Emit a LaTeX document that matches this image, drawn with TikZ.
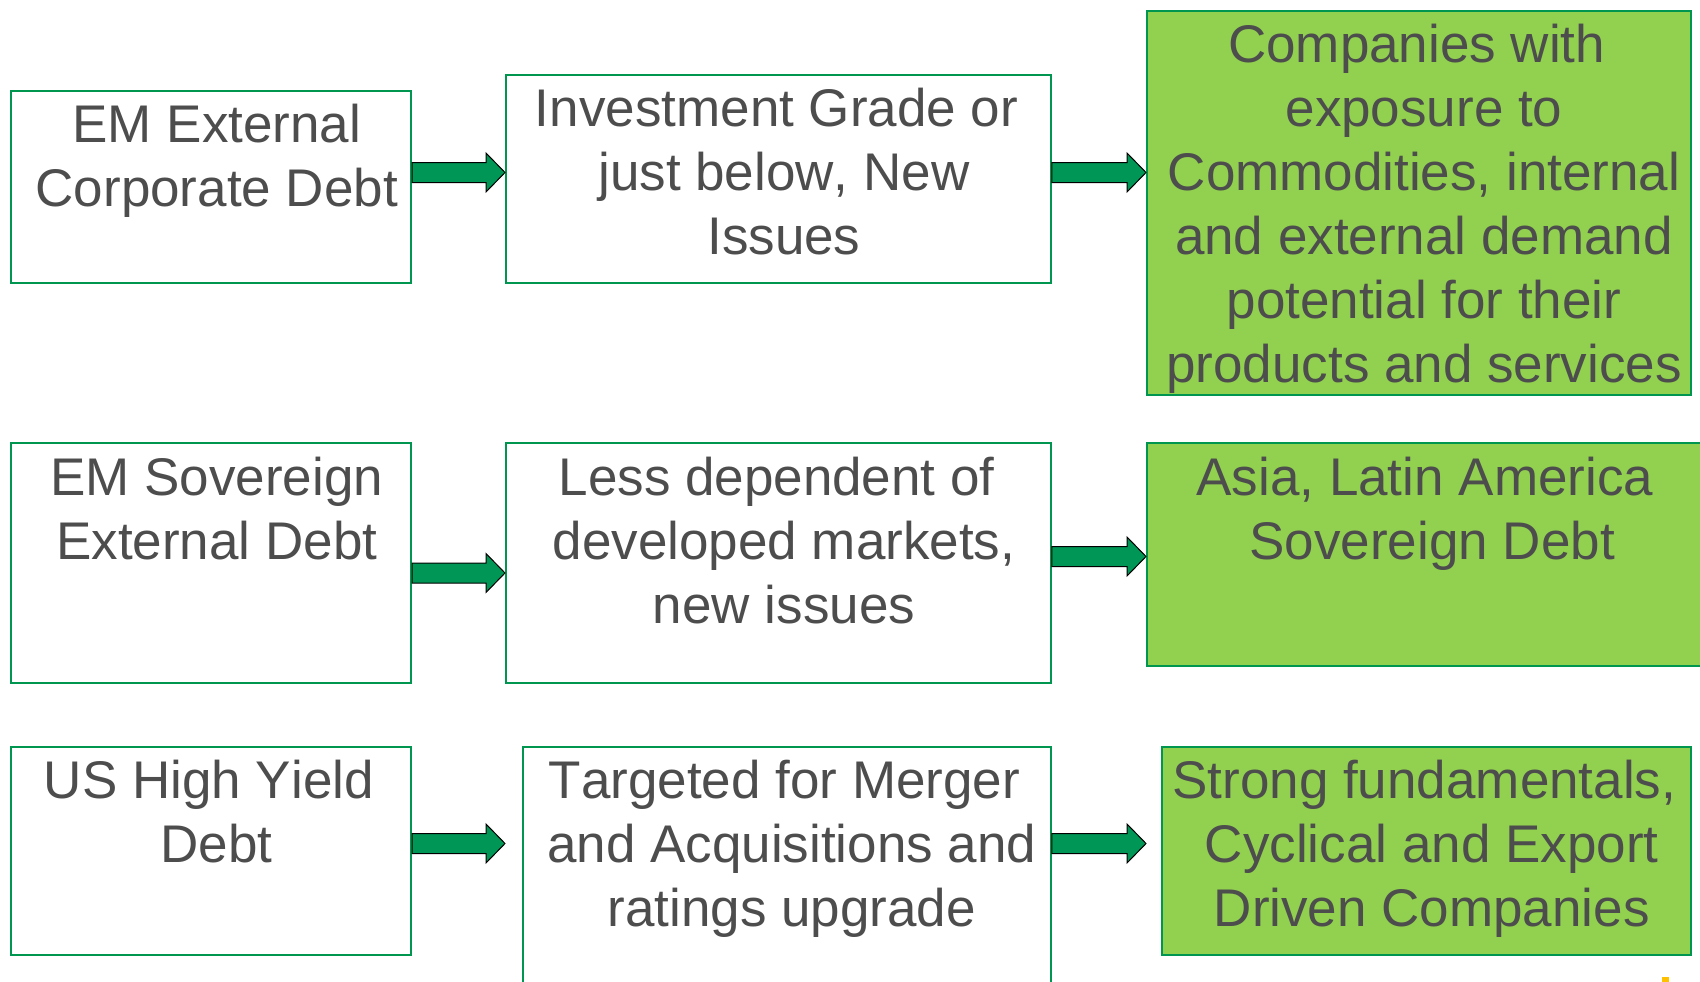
\documentclass[tikz,border=0pt]{standalone}
\usepackage{fontspec}
\setmainfont[Kerning=Off]{Liberation Sans}
\usetikzlibrary{calc}
\definecolor{boxline}{RGB}{0,150,80}
\definecolor{arrfill}{RGB}{0,150,85}
\definecolor{lightgreen}{RGB}{146,208,80}
\definecolor{txt}{RGB}{77,77,77}
\definecolor{ymark}{RGB}{255,192,0}
\tikzset{
  box/.style={draw=boxline, line width=2.4pt, fill=white, rectangle, inner sep=0pt, anchor=north west},
  gbox/.style={box, fill=lightgreen},
  label/.style={align=center, inner sep=0pt, text=txt, font=\fontsize{53}{64}\selectfont},
  blockarrow/.style={draw=black, line width=1pt, fill=arrfill, line join=miter}
}
\newcommand{\ts}{\kern0.278em}
\newcommand{\blockarr}[2]{%
  \draw[blockarrow] ($(#1)+(0,-10)$) -- ($(#2)+(-19,-10)$) -- ($(#2)+(-19,-19.5)$) -- (#2)
    -- ($(#2)+(-19,19.5)$) -- ($(#2)+(-19,10)$) -- ($(#1)+(0,10)$) -- cycle;}
\begin{document}
\begin{tikzpicture}[x=1pt,y=-1pt]
\useasboundingbox (0,0) rectangle (1700,982);
\clip (0,0) rectangle (1700,982);
\fill[white] (0,0) rectangle (1700,982);
% row 1
\node[box, minimum width=400pt, minimum height=192pt] (A1) at (9.8,90) {};
\node[box, minimum width=544.5pt, minimum height=208.2pt] (B1) at (505,73.7) {};
\node[gbox, minimum width=544pt, minimum height=383.5pt] (C1) at (1146,10) {};
% row 2
\node[box, minimum width=400pt, minimum height=240pt] (A2) at (9.8,442) {};
\node[box, minimum width=544.5pt, minimum height=240pt] (B2) at (505,442) {};
\node[gbox, minimum width=570pt, minimum height=222.6pt] (C2) at (1146,442) {};
% row 3
\node[box, minimum width=400pt, minimum height=208pt] (A3) at (9.8,746) {};
\node[box, minimum width=528pt, minimum height=270pt] (B3) at (521.5,746) {};
\node[gbox, minimum width=529pt, minimum height=208pt] (C3) at (1161,746) {};
% texts
\node[label] (A1t) at (216.8,161.9) {EM External\strut\\Corporate Debt\strut};
\node[label] (B1t) at (783.9,177.6) {Investment Grade or\ts\strut\\just below, New\strut\\Issues\strut};
\node[label] (C1t) at (1424,209.6) {Companies with\ts\strut\\exposure to\strut\\Commodities, internal\strut\\and external demand\strut\\potential for their\strut\\products and services\strut};
\node[label] (A2t) at (216.8,514.2) {EM Sovereign\strut\\External Debt\strut};
\node[label] (B2t) at (784,546.2) {Less dependent of\ts\strut\\developed markets,\strut\\new issues\strut};
\node[label] (C2t) at (1432.2,514.2) {Asia, Latin America\ts\strut\\Sovereign Debt\strut};
\node[label] (A3t) at (216.3,817.8) {US High Yield\ts\strut\\Debt\strut};
\node[label] (B3t) at (791.8,849.8) {Targeted for Merger\ts\strut\\and Acquisitions and\strut\\ratings upgrade\strut};
\node[label] (C3t) at (1431.7,849.8) {Strong fundamentals,\ts\strut\\Cyclical and Export\strut\\Driven Companies\strut};
% arrow endpoints
\coordinate (s1) at (A1.east |- 0,172.5);
\coordinate (e1) at (B1.west |- 0,172.5);
\coordinate (s2) at (B1.east |- 0,172.5);
\coordinate (e2) at (C1.west |- 0,172.5);
\coordinate (s3) at (A2.east |- 0,573);
\coordinate (e3) at (B2.west |- 0,573);
\coordinate (s4) at (B2.east |- 0,556.5);
\coordinate (e4) at (C2.west |- 0,556.5);
\coordinate (s5) at (A3.east |- 0,843.5);
\coordinate (e5) at (505,843.5);
\coordinate (s6) at (B3.east |- 0,843.5);
\coordinate (e6) at (1146,843.5);
\blockarr{s1}{e1}
\blockarr{s2}{e2}
\blockarr{s3}{e3}
\blockarr{s4}{e4}
\blockarr{s5}{e5}
\blockarr{s6}{e6}
% small mark
\fill[ymark] (1662,977) rectangle (1669,982);
\end{tikzpicture}
\end{document}
